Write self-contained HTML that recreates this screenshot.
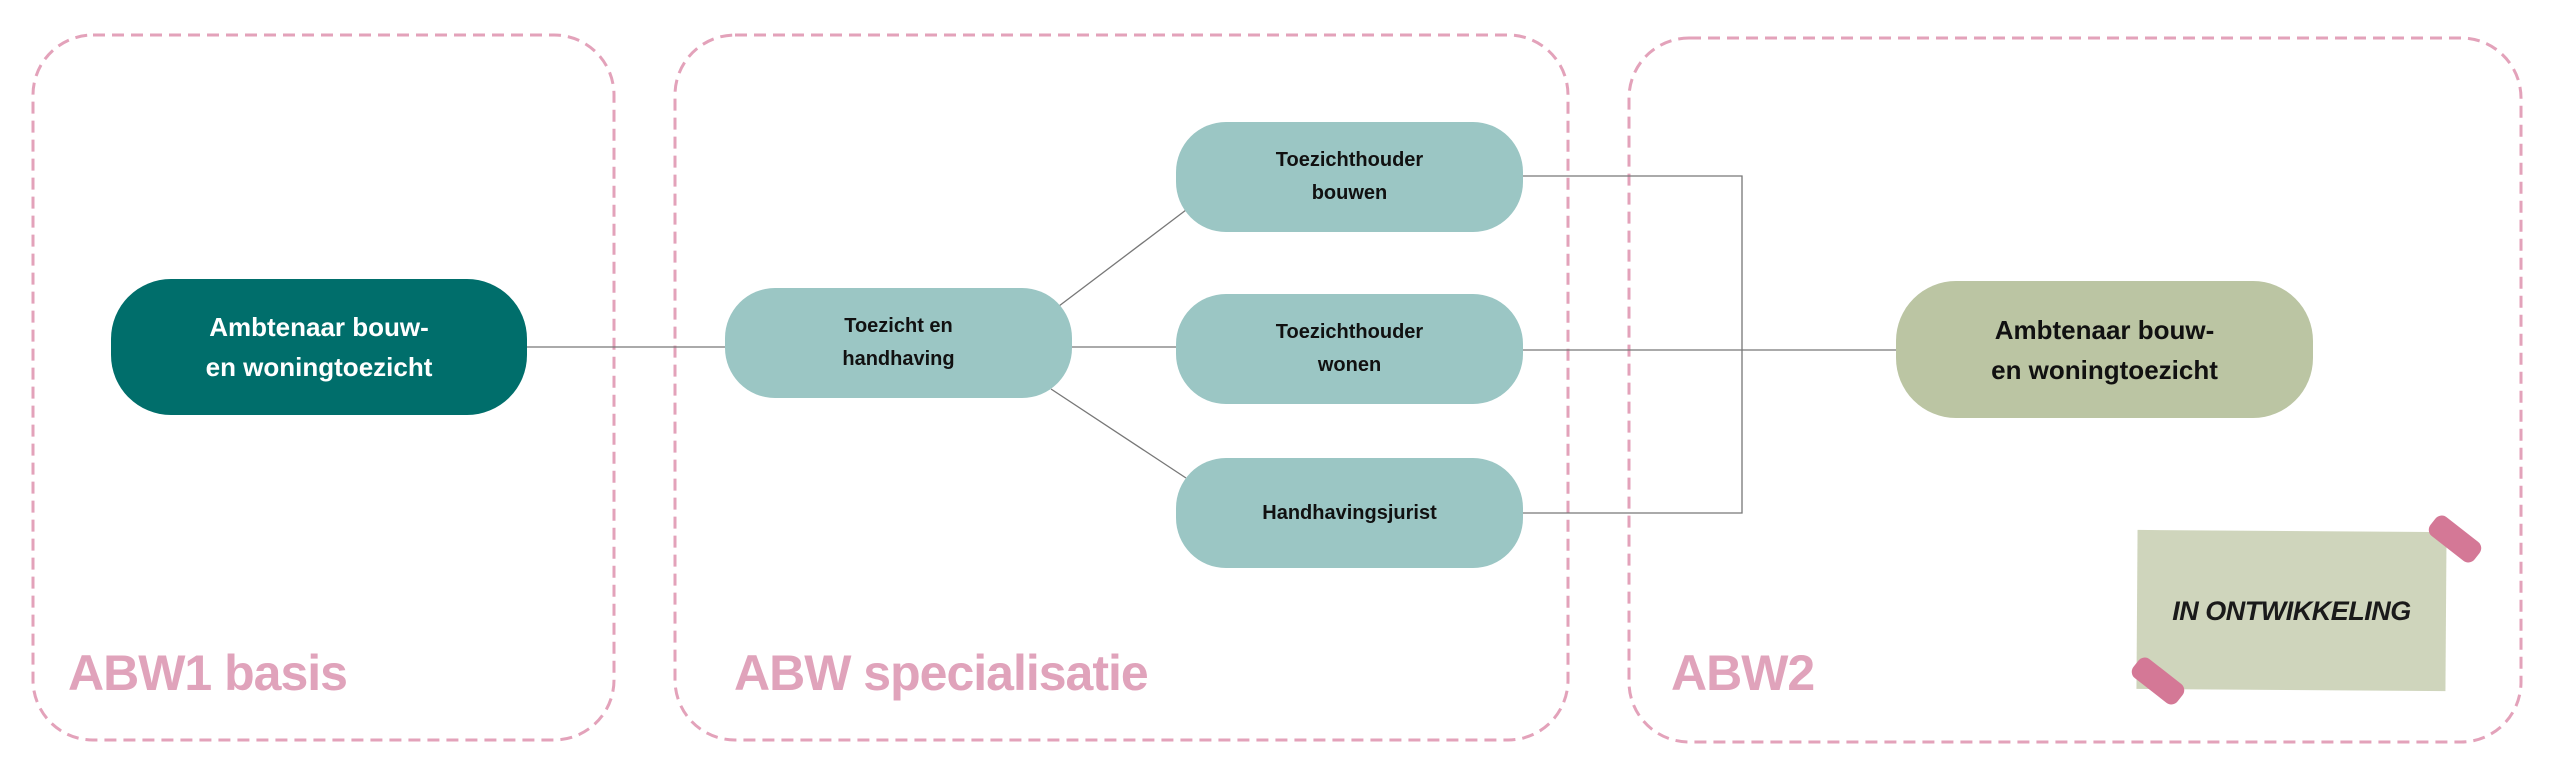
<!DOCTYPE html>
<html><head><style>
html,body{margin:0;padding:0;background:#fff;}
body{width:2560px;height:775px;position:relative;overflow:hidden;font-family:"Liberation Sans",sans-serif;}
.node{position:absolute;display:flex;align-items:center;justify-content:center;text-align:center;font-weight:bold;border-radius:60px;}
.lab{position:absolute;color:#e0a3bb;font-weight:bold;font-size:50px;letter-spacing:-1px;}
</style></head><body>
<svg width="2560" height="775" style="position:absolute;left:0;top:0">
<g fill="none" stroke="#e3a2ba" stroke-width="3" stroke-dasharray="12,7">
<rect x="33" y="35" width="581" height="705" rx="60"/>
<rect x="675" y="35" width="893" height="705" rx="60"/>
<rect x="1629" y="38" width="892" height="704" rx="60"/>
</g>
<g stroke="#777" stroke-width="1.3" fill="none">
<line x1="527" y1="347" x2="725" y2="347"/>
<line x1="1072" y1="347" x2="1176" y2="347"/>
<line x1="1059" y1="306" x2="1186" y2="210"/>
<line x1="1051" y1="389" x2="1186" y2="478"/>
<polyline points="1523,176 1742,176 1742,513 1523,513"/>
<line x1="1523" y1="350" x2="1896" y2="350"/>
</g>
<g transform="rotate(0.4 2292 610)">
<rect x="2137" y="531" width="309" height="159" fill="#cfd5bc"/>
</g>
<rect x="2427" y="527" width="56" height="24" rx="8" fill="#d47896" transform="rotate(38 2455 539)"/>
<rect x="2130" y="669" width="56" height="24" rx="8" fill="#d47896" transform="rotate(38 2158 681)"/>
</svg>
<div class="node" style="left:111px;top:279px;width:416px;height:136px;background:#006e6b;color:#fff;font-size:26px;line-height:40px;">Ambtenaar bouw-<br>en woningtoezicht</div>
<div class="node" style="left:725px;top:288px;width:347px;height:110px;background:#9bc6c4;color:#111;font-size:20px;line-height:33px;border-radius:50px;">Toezicht en<br>handhaving</div>
<div class="node" style="left:1176px;top:122px;width:347px;height:110px;background:#9bc6c4;color:#111;font-size:20px;line-height:33px;border-radius:50px;">Toezichthouder<br>bouwen</div>
<div class="node" style="left:1176px;top:294px;width:347px;height:110px;background:#9bc6c4;color:#111;font-size:20px;line-height:33px;border-radius:50px;">Toezichthouder<br>wonen</div>
<div class="node" style="left:1176px;top:458px;width:347px;height:110px;background:#9bc6c4;color:#111;font-size:20px;line-height:33px;border-radius:50px;">Handhavingsjurist</div>
<div class="node" style="left:1896px;top:281px;width:417px;height:137px;background:#bbc5a3;color:#111;font-size:26px;line-height:40px;">Ambtenaar bouw-<br>en woningtoezicht</div>
<div class="lab" style="left:68px;top:644px;">ABW1 basis</div>
<div class="lab" style="left:734px;top:644px;">ABW specialisatie</div>
<div class="lab" style="left:1671px;top:644px;">ABW2</div>
<div style="position:absolute;left:2137px;top:596px;width:309px;text-align:center;font-size:27px;font-weight:bold;font-style:italic;color:#1a1a1a;letter-spacing:-0.5px;">IN ONTWIKKELING</div>
</body></html>
